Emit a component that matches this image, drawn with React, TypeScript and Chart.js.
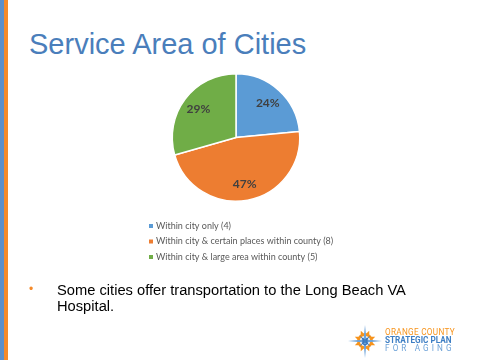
import React, { useEffect, useRef } from "react";
import { Chart, registerables } from "chart.js";

Chart.register(...registerables);

const categories = [
  "Within city only (4)",
  "Within city & certain places within county (8)",
  "Within city & large area within county (5)",
];
const cityCounts = [4, 8, 5];
const sliceColors = ["#5b9bd5", "#ed7d31", "#70ad47"];

const titleText = "Service Area of Cities";
const bulletText = "Some cities offer transportation to the Long Beach VA Hospital.";

const labelsPlugin = {
  id: "sliceLabels",
  afterDatasetsDraw(chart: any) {
    const ctx = chart.ctx;
    const meta = chart.getDatasetMeta(0);
    const data = chart.data.datasets[0].data as number[];
    const total = data.reduce((a, b) => a + b, 0);
    ctx.save();
    ctx.font = "bold 12px Lato";
    ctx.fillStyle = "#404040";
    ctx.textAlign = "center";
    ctx.textBaseline = "middle";
    meta.data.forEach((arc: any, i: number) => {
      const { x, y, startAngle, endAngle, outerRadius } = arc.getProps(
        ["x", "y", "startAngle", "endAngle", "outerRadius"],
        true
      );
      const mid = (startAngle + endAngle) / 2;
      const r = outerRadius * 0.74;
      const pct = Math.round((data[i] / total) * 100);
      ctx.fillText(pct + "%", x + Math.cos(mid) * r, y + Math.sin(mid) * r);
    });
    ctx.restore();
  },
};

const legendPlugin = {
  id: "leftLegend",
  afterDraw(chart: any) {
    const ctx = chart.ctx;
    const labels = chart.data.labels as string[];
    const colors = chart.data.datasets[0].backgroundColor as string[];
    ctx.save();
    ctx.font = "9px Lato";
    ctx.textBaseline = "middle";
    ctx.textAlign = "left";
    labels.forEach((lab, i) => {
      const cy = 226 + i * 15.5;
      ctx.fillStyle = colors[i];
      ctx.fillRect(149, cy - 2, 4, 4);
      ctx.fillStyle = "#595959";
      ctx.fillText(lab, 156, cy);
    });
    ctx.restore();
  },
};

function PieChart() {
  const ref = useRef<HTMLCanvasElement>(null);
  useEffect(() => {
    if (!ref.current) return;
    const chart = new Chart(ref.current, {
      type: "pie",
      data: {
        labels: categories,
        datasets: [
          {
            data: cityCounts,
            backgroundColor: sliceColors,
            borderColor: "#ffffff",
            borderWidth: 1.5,
          },
        ],
      },
      options: {
        animation: false,
        responsive: false,
        maintainAspectRatio: false,
        layout: { padding: { left: 171.5, right: 179.5, top: 73, bottom: 158 } },
        plugins: {
          legend: { display: false },
          tooltip: { enabled: false },
        },
      },
      plugins: [labelsPlugin, legendPlugin],
    });
    return () => chart.destroy();
  }, []);
  return (
    <canvas
      ref={ref}
      width={480}
      height={360}
      style={{ position: "absolute", left: 0, top: 0, width: 480, height: 360 }}
    />
  );
}

function Logo() {
  return (
    <div style={{ position: "absolute", left: 345, top: 322, width: 130, height: 38 }}>
      <svg width={40} height={38} style={{ position: "absolute", left: 0, top: 0 }}>
        <g transform="translate(20,19)">
          {[0, 45, 90, 135, 180, 225, 270, 315].map((a) => (
            <polygon
              key={a}
              points="-2.2,-6 2.2,-6 0,-11"
              fill="#f7941d"
              transform={`rotate(${a + 22.5})`}
            />
          ))}
          <circle r={6.5} fill="none" stroke="#f7941d" strokeWidth={2.6} />
          <polygon points="0,-16 1.5,-1.5 17,0 1.5,1.5 0,17 -1.5,1.5 -17,0 -1.5,-1.5" fill="#6fa3d8" />
          <polygon points="0,-8 1,-1 8,0 1,1 0,8 -1,1 -8,0 -1,-1" fill="#3f7fc4" transform="rotate(45)" />
          <path d="M-2,-3 L-2,3 Q0,5 2,3 L2,-3" fill="none" stroke="#2f6db5" strokeWidth={1} />
        </g>
      </svg>
      <div
        style={{
          position: "absolute",
          left: 40,
          top: 6,
          fontFamily: "Roboto",
          fontSize: 8.2,
          lineHeight: "8px",
          whiteSpace: "nowrap",
        }}
      >
        <div style={{ color: "#f7941d", letterSpacing: 0.3 }}>ORANGE COUNTY</div>
        <div style={{ color: "#3f7fc4", fontWeight: 700, letterSpacing: 0 }}>STRATEGIC PLAN</div>
        <div style={{ color: "#6fa3d8", letterSpacing: 3.1 }}>FOR AGING</div>
      </div>
    </div>
  );
}

export default function App() {
  return (
    <div
      style={{
        position: "fixed",
        left: 0,
        top: 0,
        width: 480,
        height: 360,
        background: "#ffffff",
        overflow: "hidden",
      }}
    >
      <div style={{ position: "absolute", left: 0, top: 0, width: 4, height: 360, background: "#5b8fcb" }} />
      <div style={{ position: "absolute", left: 4, top: 0, width: 4, height: 360, background: "#f58a2a" }} />
      <div
        style={{
          position: "absolute",
          left: 29,
          top: 27,
          fontFamily: "'Liberation Sans', Arial, sans-serif",
          fontSize: 29,
          lineHeight: "34px",
          color: "#4a7ebb",
          whiteSpace: "nowrap",
        }}
      >
        {titleText}
      </div>
      <PieChart />
      <div
        style={{
          position: "absolute",
          left: 29,
          top: 282,
          fontFamily: "'Liberation Sans', Arial, sans-serif",
          fontSize: 12,
          color: "#f58a2a",
        }}
      >
        •
      </div>
      <div
        style={{
          position: "absolute",
          left: 57,
          top: 283,
          width: 360,
          fontFamily: "'Liberation Sans', Arial, sans-serif",
          fontSize: 14.7,
          lineHeight: "15.7px",
          color: "#000000",
        }}
      >
        {bulletText}
      </div>
      <Logo />
    </div>
  );
}
